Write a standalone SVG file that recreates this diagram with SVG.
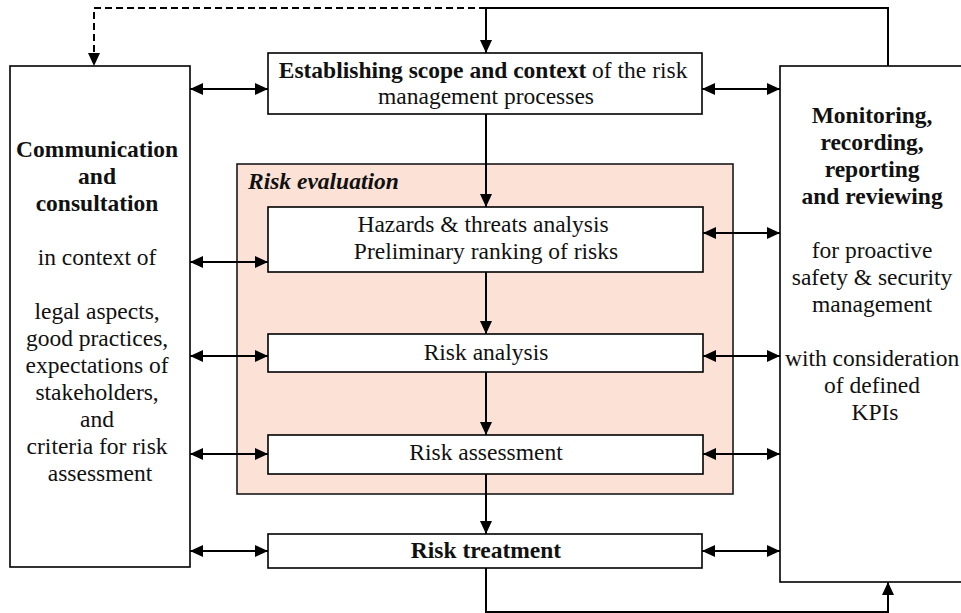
<svg xmlns="http://www.w3.org/2000/svg" width="961" height="613" viewBox="0 0 961 613">
  <style>
    .box { fill: #ffffff; stroke: #000000; stroke-width: 1.6; }
    .eval { fill: #FCE2D6; stroke: #1a1a1a; stroke-width: 1.6; }
    .conn { fill: none; stroke: #000000; stroke-width: 2; }
    .arrow { marker-end: url(#head); }
    .both { marker-start: url(#head); marker-end: url(#head); }
    .dash { stroke-dasharray: 7 4; }
  </style>
  <defs>
    <marker id="head" viewBox="0 0 13 12" refX="13" refY="6" markerWidth="13" markerHeight="12" markerUnits="userSpaceOnUse" orient="auto-start-reverse">
      <path d="M0,0 L13,6 L0,12 Z" fill="#000000"/>
    </marker>
  </defs>

  <rect width="961" height="613" fill="#ffffff"/>

  <!-- risk evaluation frame -->
  <g id="risk-evaluation">
    <rect class="eval" x="237" y="164" width="496" height="330"/>
    <text x="248" y="189" font-family="Liberation Serif" font-size="23.5" font-weight="bold" font-style="italic" fill="#111111">Risk evaluation</text>
  </g>

  <g id="communication">
    <rect class="box" x="10" y="66" width="180" height="501"/>
    <text font-family="Liberation Serif" font-size="23.5" text-anchor="middle" fill="#111111">
      <tspan font-weight="bold" x="100" y="157">Communication</tspan>
      <tspan font-weight="bold" x="100" y="184">and</tspan>
      <tspan font-weight="bold" x="100" y="211">consultation</tspan>
      <tspan x="100" y="265">in context of</tspan>
      <tspan x="100" y="319">legal aspects,</tspan>
      <tspan x="100" y="346">good practices,</tspan>
      <tspan x="100" y="373">expectations of</tspan>
      <tspan x="100" y="400">stakeholders,</tspan>
      <tspan x="100" y="427">and</tspan>
      <tspan x="100" y="454">criteria for risk</tspan>
      <tspan x="100" y="481">assessment</tspan>
    </text>
  </g>

  <g id="monitoring">
    <rect class="box" x="780" y="66" width="200" height="516"/>
    <text font-family="Liberation Serif" font-size="23.5" text-anchor="middle" fill="#111111">
      <tspan font-weight="bold" x="875" y="123">Monitoring,</tspan>
      <tspan font-weight="bold" x="875" y="150">recording,</tspan>
      <tspan font-weight="bold" x="875" y="177">reporting</tspan>
      <tspan font-weight="bold" x="875" y="204">and reviewing</tspan>
      <tspan x="875" y="258">for proactive</tspan>
      <tspan x="875" y="285">safety &amp; security</tspan>
      <tspan x="875" y="312">management</tspan>
      <tspan x="875" y="366">with consideration</tspan>
      <tspan x="875" y="393">of defined</tspan>
      <tspan x="875" y="420">KPIs</tspan>
    </text>
  </g>

  <g id="scope-context">
    <rect class="box" x="268" y="53" width="434" height="61"/>
    <text font-family="Liberation Serif" font-size="23.5" text-anchor="middle" fill="#111111">
      <tspan x="486" y="78"><tspan font-weight="bold">Establishing scope and context</tspan> of the risk</tspan>
      <tspan x="486" y="104">management processes</tspan>
    </text>
  </g>

  <g id="hazards">
    <rect class="box" x="268" y="207" width="435" height="65"/>
    <text font-family="Liberation Serif" font-size="23.5" text-anchor="middle" fill="#111111">
      <tspan x="486" y="232">Hazards &amp; threats analysis</tspan>
      <tspan x="486" y="259">Preliminary ranking of risks</tspan>
    </text>
  </g>

  <g id="risk-analysis">
    <rect class="box" x="268" y="334" width="435" height="38"/>
    <text x="486" y="360" font-family="Liberation Serif" font-size="23.5" text-anchor="middle" fill="#111111">Risk analysis</text>
  </g>

  <g id="risk-assessment">
    <rect class="box" x="268" y="435" width="435" height="39"/>
    <text x="486" y="460" font-family="Liberation Serif" font-size="23.5" text-anchor="middle" fill="#111111">Risk assessment</text>
  </g>

  <g id="risk-treatment">
    <rect class="box" x="268" y="534" width="434" height="34"/>
    <text x="486" y="558" font-family="Liberation Serif" font-size="23.5" font-weight="bold" text-anchor="middle" fill="#111111">Risk treatment</text>
  </g>

  <g id="connectors">
    <!-- feedback loops -->
    <path class="conn arrow" d="M888,66 V8 H486 V53"/>
    <path class="conn arrow dash" d="M486,8 H94 V66"/>
    <path class="conn arrow" d="M486,568 V612 H888 V582"/>

    <!-- main flow -->
    <path class="conn arrow" d="M486,114 V207"/>
    <path class="conn arrow" d="M486,272 V334"/>
    <path class="conn arrow" d="M486,372 V435"/>
    <path class="conn arrow" d="M486,474 V534"/>

    <!-- communication links -->
    <path class="conn both" d="M190,89 H268"/>
    <path class="conn both" d="M190,262 H268"/>
    <path class="conn both" d="M190,356 H268"/>
    <path class="conn both" d="M190,454 H268"/>
    <path class="conn both" d="M190,551 H268"/>

    <!-- monitoring links -->
    <path class="conn both" d="M702,89 H780"/>
    <path class="conn both" d="M703,233 H780"/>
    <path class="conn both" d="M703,356 H780"/>
    <path class="conn both" d="M703,454 H780"/>
    <path class="conn both" d="M702,551 H780"/>
  </g>
</svg>
